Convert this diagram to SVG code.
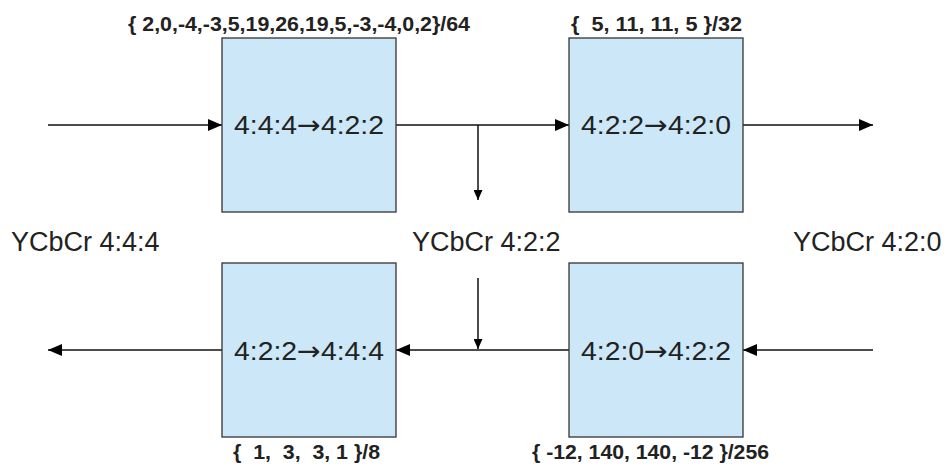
<svg xmlns="http://www.w3.org/2000/svg" width="946" height="466" viewBox="0 0 946 466">
<defs>
<style>
.box{fill:#cce8f8;stroke:#333;stroke-width:1.3}
.lbl{font-family:"Liberation Sans",Arial,sans-serif;font-size:26px;fill:#222;text-anchor:middle}
.ar{font-family:"DejaVu Sans",sans-serif;font-size:26px}
.coef{font-family:"Liberation Sans",Arial,sans-serif;font-size:21px;font-weight:bold;fill:#222;white-space:pre}
.fmt{font-family:"Liberation Sans",Arial,sans-serif;font-size:27px;fill:#222}
.ln{stroke:#111;stroke-width:1.5;fill:none}
</style>
<marker id="ah" markerWidth="14" markerHeight="12" refX="14" refY="6" orient="auto" markerUnits="userSpaceOnUse"><path d="M0,0 L14,6 L0,12 Z" fill="#000"/></marker>
<marker id="ahs" markerWidth="10" markerHeight="9" refX="10" refY="4.5" orient="auto" markerUnits="userSpaceOnUse"><path d="M0,0 L10,4.5 L0,9 Z" fill="#000"/></marker>
</defs>
<g id="connectors">
<line class="ln" x1="48" y1="125" x2="222" y2="125" marker-end="url(#ah)"/>
<line class="ln" x1="396" y1="125" x2="569" y2="125" marker-end="url(#ah)"/>
<line class="ln" x1="743" y1="125" x2="873" y2="125" marker-end="url(#ah)"/>
<line class="ln" x1="478" y1="125" x2="478" y2="200" marker-end="url(#ahs)"/>
<line class="ln" x1="873" y1="350" x2="743" y2="350" marker-end="url(#ah)"/>
<line class="ln" x1="569" y1="350" x2="396" y2="350" marker-end="url(#ah)"/>
<line class="ln" x1="222" y1="350" x2="48" y2="350" marker-end="url(#ah)"/>
<line class="ln" x1="478" y1="278" x2="478" y2="349" marker-end="url(#ahs)"/>
</g>
<g id="n1">
<rect class="box" x="222" y="38" width="174" height="174"/>
<text class="lbl" x="309" y="134" textLength="150" lengthAdjust="spacingAndGlyphs">4:4:4<tspan class="ar">→</tspan>4:2:2</text>
<text class="coef" x="128" y="31" textLength="342" lengthAdjust="spacingAndGlyphs">{ 2,0,-4,-3,5,19,26,19,5,-3,-4,0,2}/64</text>
</g>
<g id="n2">
<rect class="box" x="569" y="38" width="174" height="174"/>
<text class="lbl" x="656" y="134" textLength="150" lengthAdjust="spacingAndGlyphs">4:2:2<tspan class="ar">→</tspan>4:2:0</text>
<text class="coef" x="571" y="31" textLength="171" lengthAdjust="spacingAndGlyphs">{  5, 11, 11, 5 }/32</text>
</g>
<g id="n3">
<rect class="box" x="222" y="263" width="174" height="174"/>
<text class="lbl" x="309" y="360" textLength="150" lengthAdjust="spacingAndGlyphs">4:2:2<tspan class="ar">→</tspan>4:4:4</text>
<text class="coef" x="233" y="459" textLength="147" lengthAdjust="spacingAndGlyphs">{  1,  3,  3, 1 }/8</text>
</g>
<g id="n4">
<rect class="box" x="569" y="263" width="174" height="174"/>
<text class="lbl" x="656" y="360" textLength="150" lengthAdjust="spacingAndGlyphs">4:2:0<tspan class="ar">→</tspan>4:2:2</text>
<text class="coef" x="532" y="459" textLength="237" lengthAdjust="spacingAndGlyphs">{ -12, 140, 140, -12 }/256</text>
</g>
<g id="formats">
<text class="fmt" x="11" y="251">YCbCr 4:4:4</text>
<text class="fmt" x="412" y="251">YCbCr 4:2:2</text>
<text class="fmt" x="793" y="251">YCbCr 4:2:0</text>
</g>
</svg>
